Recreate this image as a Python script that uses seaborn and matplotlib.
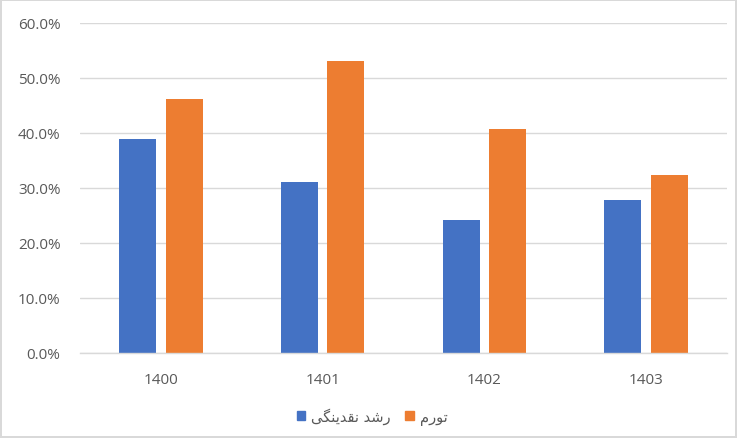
import pandas as pd
import numpy as np
import matplotlib.pyplot as plt
import seaborn as sns
from matplotlib.patches import Patch
from matplotlib.ticker import PercentFormatter

# data
years = ["1400", "1401", "1402", "1403"]
liquidity_growth = [0.389, 0.311, 0.242, 0.279]
inflation = [0.462, 0.531, 0.407, 0.324]

# series names; stored pre-shaped in visual order since matplotlib has no bidi
name_liquidity = "\uFBFD\uFB95\uFEE8\uFBFE\uFEAA\uFED8\uFEE7 \uFEAA\uFEB7\uFEAD"  # رشد نقدینگی
name_inflation = "\uFEE1\uFEAD\uFEEE\uFE97"  # تورم

df = pd.DataFrame({
    "year": years * 2,
    "value": liquidity_growth + inflation,
    "series": [name_liquidity] * 4 + [name_inflation] * 4,
})

sns.set_theme(style="white")
plt.rcParams["font.family"] = ["Open Sans", "DejaVu Sans"]

blue = "#4472C4"
orange = "#ED7D31"
grey_text = "#595959"

fig = plt.figure(figsize=(7.37, 4.39), dpi=100)
fig.patch.set_edgecolor("#d9d9d9")
fig.patch.set_linewidth(1.5)
ax = fig.add_axes([80 / 737, 1 - 354 / 439, 647 / 737, 330 / 439])

sns.barplot(data=df, x="year", y="value", hue="series",
            hue_order=[name_liquidity, name_inflation],
            palette=[blue, orange], saturation=1, width=0.574, gap=0.2,
            linewidth=0, edgecolor="none", legend=False, ax=ax)

ax.set_ylim(0, 0.6)
ax.set_yticks(np.arange(0, 0.61, 0.1))
ax.yaxis.set_major_formatter(PercentFormatter(1.0, decimals=1))
ax.yaxis.grid(True, color="#d9d9d9", linewidth=1)
ax.set_axisbelow(True)
for side in ["top", "left", "right"]:
    ax.spines[side].set_visible(False)
ax.spines["bottom"].set_color("#d9d9d9")
ax.spines["bottom"].set_linewidth(1)
ax.tick_params(axis="both", length=0, labelsize=11, labelcolor=grey_text)
ax.tick_params(axis="y", pad=14)
ax.tick_params(axis="x", pad=14)
ax.set_xlabel("")
ax.set_ylabel("")

handles = [Patch(color=blue, label=name_liquidity),
           Patch(color=orange, label=name_inflation)]
leg = fig.legend(handles=handles, loc="center", bbox_to_anchor=(0.505, 1 - 417 / 439),
                 ncol=2, frameon=False, handlelength=0.6, handleheight=0.6,
                 handletextpad=0.4, columnspacing=1.0,
                 prop={"family": "DejaVu Sans", "size": 10.5})
for t in leg.get_texts():
    t.set_color(grey_text)

fig.savefig("out.png", dpi=100)
